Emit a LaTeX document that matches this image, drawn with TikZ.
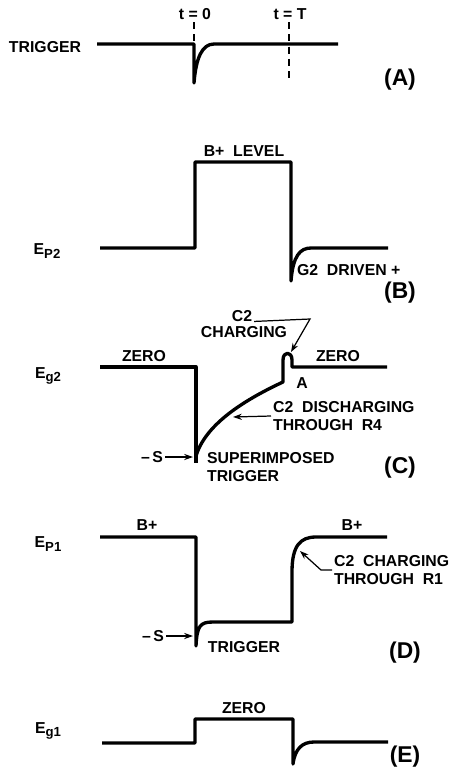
\documentclass[tikz,border=0pt]{standalone}
\usepackage{fontspec}
\setmainfont{Liberation Sans}
\usetikzlibrary{arrows.meta}

\tikzset{
  wave/.style={line width=1.9pt, line join=round},
  lbl/.style={font=\bfseries\fontsize{9}{10}\selectfont, inner sep=1pt},
  tag/.style={font=\bfseries\fontsize{13}{15}\selectfont, inner sep=1pt},
  lead/.style={line width=0.7pt, -{Stealth[length=5pt,width=3.5pt]}},
  tline/.style={line width=0.7pt, dash pattern=on 4pt off 3pt}
}
\newcommand{\sig}[2]{E\raisebox{-0.45ex}{\fontsize{7.5}{8}\selectfont #1}#2}

\begin{document}
\begin{tikzpicture}[x=0.02cm, y=-0.02cm]
  \useasboundingbox (0,0) rectangle (449,779);

  % ==========================================
  % (A) TRIGGER
  % ==========================================
  \begin{scope}
    \node[lbl] (trig) at (45,47) {TRIGGER};
    \node[lbl] (tzero) at (195,14) {t = 0};
    \node[lbl] (tT) at (290,14) {t = T};
    \draw[tline] (194,22) -- (194,44);
    \draw[tline] (289,22) -- (289,83);
    % impulsion de declenchement
    \draw[wave] (97,44) -- (194,44) -- (194,83)
      .. controls (196,58) and (202,44) .. (214,44) -- (338,44);
    \node[tag] (tagA) at (400,80) {(A)};
  \end{scope}

  % ==========================================
  % (B) PLATE 2
  % ==========================================
  \begin{scope}
    \node[lbl] (ep2) at (47,251) {\sig{P2}{}};
    \draw[wave] (100,248) -- (195,248) -- (195,162) -- (291,162) -- (291,281)
      .. controls (293,256) and (300,248) .. (311,248) -- (388,248);
    \node[lbl] (bplus) at (244,151) {B+\ \ LEVEL};
    \node[lbl, anchor=west] (gdrv) at (295,270) {G2\ \ DRIVEN +};
    \node[tag] (tagB) at (400,293) {(B)};
  \end{scope}

  % ==========================================
  % (C) GRID 2
  % ==========================================
  \begin{scope}
    \node[lbl] (eg2) at (48,376) {\sig{g2}{}};
    \draw[wave] (100,367) -- (196,367) -- (196,463);
    \draw[wave] (196,456) .. controls (205,426) and (240,402) .. (283,382)
      -- (283,360) .. controls (283,351) and (292,351) .. (292,360)
      -- (292,367) -- (387,367);
    \node[lbl] (zeroL) at (144,356) {ZERO};
    \node[lbl] (zeroR) at (338,356) {ZERO};
    \node[lbl] (c2) at (242,316) {C2};
    \node[lbl] (chg) at (244,332) {CHARGING};
    \coordinate (knee) at (310,319);
    \coordinate (bump) at (291,352);
    \draw[lead] (c2.base east) -- (knee) -- (bump);
    \node[lbl] (ptA) at (302,383) {A};
    \node[lbl, anchor=west, align=left] (dis) at (271,416) {C2\ \ DISCHARGING\\THROUGH\ \ R4};
    \coordinate (slope) at (233,417);
    \draw[lead] (dis.west) -- (slope);
    \node[lbl] (sC) at (152,457) {--\,S};
    \coordinate (sCtip) at (193,457);
    \draw[lead] (sC.east) -- (sCtip);
    \node[lbl, anchor=west, align=left] (sup) at (205,467) {SUPERIMPOSED\\TRIGGER};
    \node[tag] (tagC) at (400,468) {(C)};
  \end{scope}

  % ==========================================
  % (D) PLATE 1
  % ==========================================
  \begin{scope}
    \node[lbl] (ep1) at (48,544) {\sig{P1}{}};
    \draw[wave] (100,537) -- (196,537) -- (196,646)
      .. controls (197,626) and (200,622) .. (213,622) -- (292,622) -- (292,572)
      .. controls (292,546) and (300,537) .. (316,537) -- (387,537);
    \node[lbl] (bpL) at (147,525) {B+};
    \node[lbl] (bpR) at (352,525) {B+};
    \node[lbl, anchor=west, align=left] (chg1) at (332,570) {C2\ \ CHARGING\\THROUGH\ \ R1};
    \coordinate (kneeD) at (321,570);
    \coordinate (rise) at (300,551);
    \draw[lead] (chg1.west) -- (kneeD) -- (rise);
    \node[lbl] (sD) at (153,636) {--\,S};
    \coordinate (sDtip) at (193,636);
    \draw[lead] (sD.east) -- (sDtip);
    \node[lbl] (trgD) at (244,647) {TRIGGER};
    \node[tag] (tagD) at (405,653) {(D)};
  \end{scope}

  % ==========================================
  % (E) GRID 1
  % ==========================================
  \begin{scope}
    \node[lbl] (eg1) at (48,731) {\sig{g1}{}};
    \draw[wave] (102,743) -- (195,743) -- (195,719) -- (293,719) -- (293,764)
      .. controls (295,749) and (302,742) .. (314,742) -- (388,742);
    \node[lbl] (zeroE) at (244,708) {ZERO};
    \node[tag] (tagE) at (405,757) {(E)};
  \end{scope}

\end{tikzpicture}
\end{document}
